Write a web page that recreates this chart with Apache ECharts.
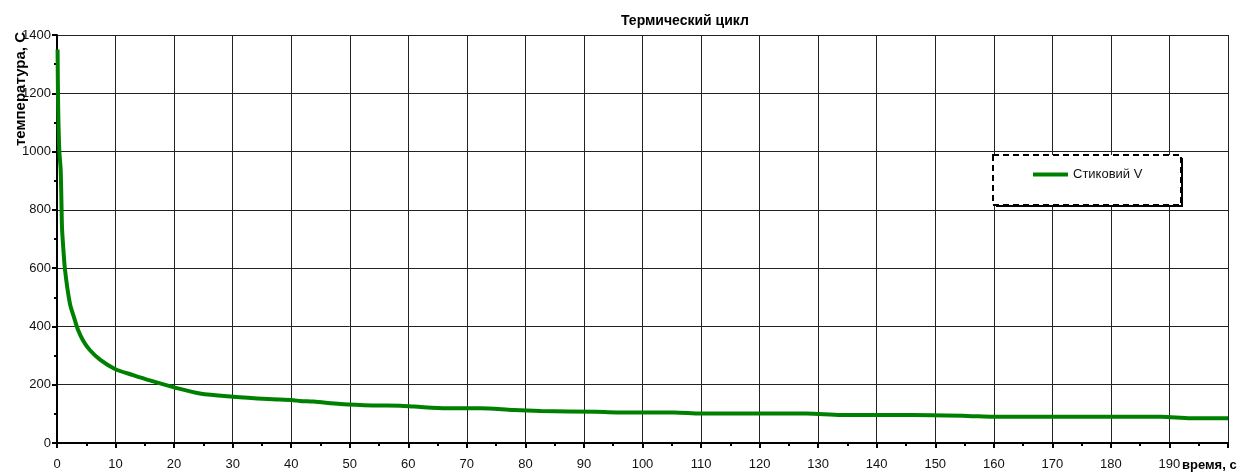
<!DOCTYPE html>
<html>
<head>
<meta charset="utf-8">
<script src="https://cdn.jsdelivr.net/npm/echarts@6/dist/echarts.min.js"></script>
<style>
  html, body { margin: 0; padding: 0; background: #fff; }
  #chart { width: 1248px; height: 472px; }
</style>
</head>
<body>
<div id="chart"></div>
<script>
// время, с
const timeS = [0.1, 0.2, 0.4, 0.63, 0.85, 1.0, 1.37, 2.2, 3.0, 3.6, 4.5, 5.6, 7.4, 9.9, 13, 16, 20, 24.4, 30, 36, 40.4, 41.5, 43.8, 48.4, 54, 58.6, 61, 66.6, 72.3, 78, 82.6, 92, 95.7, 105.4, 110, 128, 134, 146, 155.5, 160, 188.5, 193.7, 200];
// температура, С
const tempC = [1350, 1150, 1000, 937, 742, 690, 594, 479, 425, 388, 350, 319, 285, 254, 233, 214, 191, 170, 159, 151, 147, 144, 142, 134, 129, 128, 125, 119, 119, 113, 110, 107, 105, 105, 101, 101, 96, 96, 93, 90, 90, 85, 85];
const seriesName = 'Стиковий V';

const chart = echarts.init(document.getElementById('chart'));
const font = 'Liberation Sans, Arial, sans-serif';

const option = {
  animation: false,
  backgroundColor: '#fff',
  textStyle: { fontFamily: font },
  grid: { left: 57, right: 20, top: 35, bottom: 29, outerBoundsMode: 'none' },
  xAxis: {
    type: 'value', min: 0, max: 200, interval: 10,
    axisLine: { lineStyle: { color: '#000', width: 2 } },
    axisTick: { length: 5, lineStyle: { color: '#000', width: 2 } },
    minorTick: { show: true, splitNumber: 2, length: 3, lineStyle: { color: '#000', width: 2 } },
    splitLine: { show: true, lineStyle: { color: '#222', width: 1 } },
    axisLabel: {
      color: '#111', fontSize: 13, fontFamily: font, margin: 15,
      formatter: v => (v === 200 ? '' : String(v))
    }
  },
  yAxis: {
    type: 'value', min: 0, max: 1400, interval: 200,
    axisLine: { show: true, lineStyle: { color: '#000', width: 2 } },
    axisTick: { show: true, length: 5, lineStyle: { color: '#000', width: 2 } },
    minorTick: { show: true, splitNumber: 2, length: 3, lineStyle: { color: '#000', width: 2 } },
    splitLine: { show: true, lineStyle: { color: '#222', width: 1 } },
    axisLabel: { color: '#111', fontSize: 13, fontFamily: font, margin: 6, formatter: v => String(v) }
  },
  legend: {
    show: true, left: 1033, top: 168, z: 20, padding: 0,
    icon: 'rect', itemWidth: 35, itemHeight: 4,
    textStyle: { color: '#111', fontSize: 13, fontFamily: font },
    data: [seriesName]
  },
  graphic: [
    {
      type: 'text', left: 621, top: 14, z: 10,
      style: { text: 'Термический цикл', fill: '#000', font: 'bold 14px ' + font, textAlign: 'center' }
    },
    {
      type: 'text', x: 21, y: 32, rotation: Math.PI / 2, z: 10,
      style: { text: 'температура, С', fill: '#000', font: 'bold 15px ' + font, textAlign: 'right', textVerticalAlign: 'middle' }
    },
    {
      type: 'text', x: 1182, y: 465, z: 10,
      style: { text: 'время, с', fill: '#000', font: 'bold 13px ' + font, textAlign: 'left', textVerticalAlign: 'middle' }
    },
    {
      type: 'rect', z: 9,
      shape: { x: 996, y: 158, width: 187, height: 49 },
      style: { fill: '#000' }
    },
    {
      type: 'rect', z: 10,
      shape: { x: 993, y: 155, width: 188, height: 50 },
      style: { fill: '#fff', stroke: '#000', lineWidth: 2, lineDash: [6, 4] }
    }
  ],
  series: [
    {
      name: seriesName,
      type: 'line',
      data: timeS.map((t, i) => [t, tempC[i]]),
      showSymbol: false,
      smooth: 0.3,
      color: '#008000',
      lineStyle: { color: '#008000', width: 4 }
    }
  ]
};
chart.setOption(option);
</script>
</body>
</html>
